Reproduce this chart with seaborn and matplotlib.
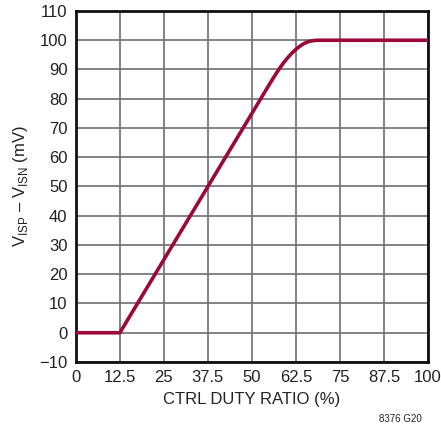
import matplotlib
matplotlib.use("Agg")
import matplotlib.pyplot as plt
import seaborn as sns
import pandas as pd

# ---------------- DATA ----------------
duty = [0, 12.5, 25, 37.5, 50, 55, 56, 57, 58, 59, 60, 61, 62, 63, 64,
        65, 66, 67, 68, 69, 75, 87.5, 100]
vsense = [0, 0, 25, 50, 75, 85, 86.95, 88.85, 90.65, 92.3, 93.8, 95.15, 96.35,
          97.4, 98.3, 99.0, 99.5, 99.8, 99.95, 100, 100, 100, 100]
x_ticks = [0, 12.5, 25, 37.5, 50, 62.5, 75, 87.5, 100]
x_labels = ["0", "12.5", "25", "37.5", "50", "62.5", "75", "87.5", "100"]
y_ticks = list(range(-10, 111, 10))

# ---------------- STYLE ----------------
sns.set_style("white")
plt.rcParams["font.family"] = ["Liberation Sans", "DejaVu Sans"]
plt.rcParams["mathtext.fontset"] = "custom"
plt.rcParams["mathtext.rm"] = "Liberation Sans"
plt.rcParams["axes.unicode_minus"] = True

df = pd.DataFrame({"duty": duty, "v": vsense})

fig = plt.figure(figsize=(4.41, 4.33), dpi=100)
ax = fig.add_axes([0.172, 0.164, 0.7985, 0.8106])

sns.lineplot(data=df, x="duty", y="v", ax=ax, color="#9b0a36", linewidth=2.6,
             zorder=3)

ax.set_xlim(0, 100)
ax.set_ylim(-10, 110)
ax.set_xticks(x_ticks)
ax.set_xticklabels(x_labels)
ax.set_yticks(y_ticks)
ax.grid(True, color="#6e6e6e", linewidth=1.2)
ax.set_axisbelow(True)

for s in ax.spines.values():
    s.set_color("#111111")
    s.set_linewidth(2)

ax.tick_params(axis="both", labelsize=12, length=3, width=1, color="#333333",
               labelcolor="#222222", pad=3)
ax.set_xlabel("CTRL DUTY RATIO (%)", fontsize=12, color="#222222", labelpad=5)
ax.set_ylabel(r"V$_{\mathrm{ISP}}$ – V$_{\mathrm{ISN}}$ (mV)", fontsize=12,
              color="#222222", labelpad=7)

fig.text(0.957, 0.02, "8376 G20", fontsize=7, color="#222222", ha="right",
         va="bottom")

fig.savefig("out.png", dpi=100)
